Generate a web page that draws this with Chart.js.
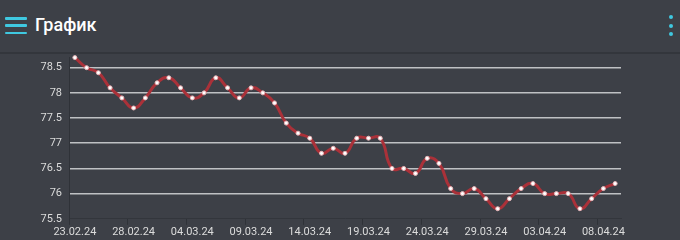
<!DOCTYPE html>
<html>
<head>
<meta charset="utf-8">
<script src="https://cdn.jsdelivr.net/npm/chart.js@4.4.1/dist/chart.umd.min.js"></script>
<style>
  html, body { margin: 0; padding: 0; }
  body { width: 680px; height: 240px; background: #3d4047; overflow: hidden; position: relative; font-family: Roboto, sans-serif; }
  .header { position: absolute; left: 0; top: 0; width: 680px; height: 52px; background: #3d4047; border-bottom: 2px solid #33363c; }
  .burger { position: absolute; left: 5px; top: 17px; width: 22px; }
  .burger span { display: block; height: 2.6px; background: #3fc8e0; margin-bottom: 4.8px; border-radius: 1px; }
  .title { position: absolute; left: 35px; top: 14px; color: #ffffff; font-size: 18px; font-weight: 500; }
  .dots { position: absolute; left: 669px; top: 15px; }
  .dots span { display: block; width: 4px; height: 4px; border-radius: 2px; background: #3fc8e0; margin-bottom: 4.5px; }
  .wrap { position: absolute; left: 0; top: 44px; width: 680px; height: 196px; }
</style>
</head>
<body>
<div class="header">
  <div class="burger"><span></span><span></span><span></span></div>
  <div class="title">График</div>
  <div class="dots"><span></span><span></span><span></span></div>
</div>
<div class="wrap"><canvas id="myChart"></canvas></div>
<script>
const dates = [
  '23.02.24', '24.02.24', '25.02.24', '26.02.24', '27.02.24', '28.02.24', '29.02.24',
  '01.03.24', '02.03.24', '03.03.24', '04.03.24', '05.03.24', '06.03.24', '07.03.24', '08.03.24',
  '09.03.24', '10.03.24', '11.03.24', '12.03.24', '13.03.24', '14.03.24', '15.03.24', '16.03.24',
  '17.03.24', '18.03.24', '19.03.24', '20.03.24', '21.03.24', '22.03.24', '23.03.24', '24.03.24',
  '25.03.24', '26.03.24', '27.03.24', '28.03.24', '29.03.24', '30.03.24', '31.03.24',
  '01.04.24', '02.04.24', '03.04.24', '04.04.24', '05.04.24', '06.04.24', '07.04.24', '08.04.24', '09.04.24'
];
const rates = [
  78.7, 78.5, 78.4, 78.1, 77.9, 77.7, 77.9, 78.2, 78.3, 78.1,
  77.9, 78.0, 78.3, 78.1, 77.9, 78.1, 78.0, 77.8, 77.4, 77.2,
  77.1, 76.8, 76.9, 76.8, 77.1, 77.1, 77.1, 76.5, 76.5, 76.4,
  76.7, 76.6, 76.1, 76.0, 76.1, 75.9, 75.7, 75.9, 76.1, 76.2,
  76.0, 76.0, 76.0, 75.7, 75.9, 76.1, 76.2
];
const yTicks = [75.5, 76, 76.5, 77, 77.5, 78, 78.5];

document.addEventListener('DOMContentLoaded', function() {
    const ctx = document.getElementById('myChart').getContext('2d');
    new Chart(ctx, {
        type: 'line',
        data: {
            labels: dates,
            datasets: [{
                data: rates,
                borderColor: '#aa3139',
                borderWidth: 3,
                tension: 0.5,
                pointRadius: 2,
                pointBorderWidth: 1,
                pointBackgroundColor: '#ffffff',
                pointBorderColor: '#e6b3b6',
                clip: false
            }]
        },
        options: {
            responsive: true,
            maintainAspectRatio: false,
            animation: false,
            layout: { padding: { left: 0, right: 59, top: 2, bottom: 0 } },
            plugins: {
                legend: { display: false },
                tooltip: { enabled: false }
            },
            scales: {
                x: {
                    offset: true,
                    grid: {
                        offset: true,
                        drawOnChartArea: false,
                        tickLength: 6,
                        color: function(c) { return c.index % 5 === 0 ? '#2f3238' : 'rgba(0,0,0,0)'; }
                    },
                    border: { display: true, color: '#33363c', width: 1 },
                    ticks: {
                        autoSkip: false,
                        maxRotation: 0,
                        padding: 1,
                        color: '#dcdcdc',
                        font: { family: 'Roboto', size: 11 },
                        callback: function(v, i) { return i % 5 === 0 ? dates[i] : ''; }
                    }
                },
                y: {
                    min: yTicks[0],
                    max: Math.max(...rates),
                    afterFit: function(scale) { scale.width = 69; },
                    afterBuildTicks: function(scale) {
                        scale.ticks = yTicks.map(function(v) { return { value: v }; });
                    },
                    grid: {
                        drawTicks: false,
                        lineWidth: 1.5,
                        color: function(c) { return c.tick && c.tick.value === yTicks[0] ? 'rgba(0,0,0,0)' : '#bfc1c4'; }
                    },
                    border: { display: true, color: '#2f3238', width: 1 },
                    ticks: {
                        padding: 7,
                        color: '#dcdcdc',
                        font: { family: 'Roboto', size: 11 },
                        callback: function(v) { return String(v); }
                    }
                }
            }
        }
    });
});
</script>
</body>
</html>
